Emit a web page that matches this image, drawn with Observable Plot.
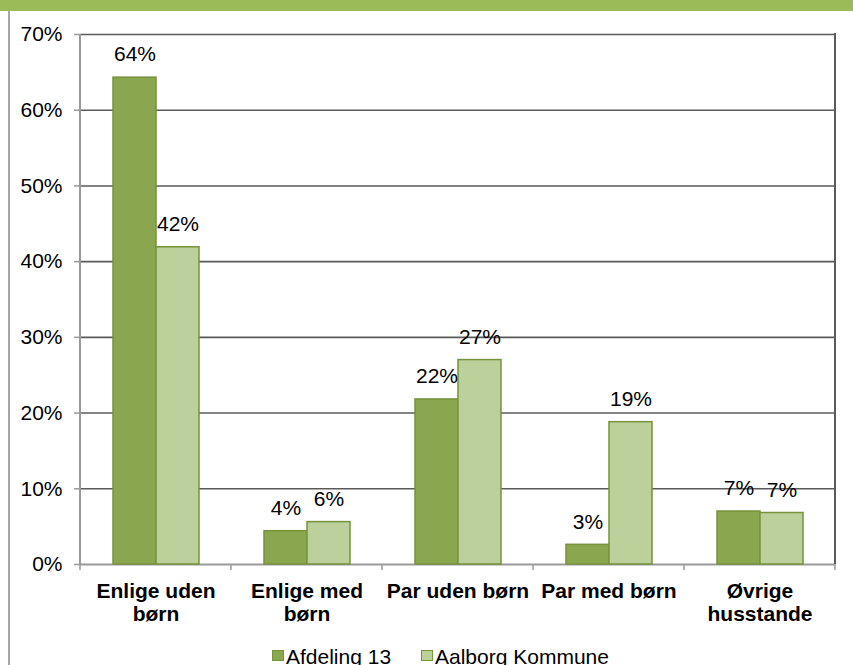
<!DOCTYPE html>
<html><head><meta charset="utf-8">
<script src="https://cdn.jsdelivr.net/npm/d3@7"></script>
<script src="https://cdn.jsdelivr.net/npm/@observablehq/plot@0.6"></script>
<style>
body{margin:0;background:#fff;font-family:"Liberation Sans",Arial,sans-serif;}
#wrap{position:relative;width:853px;height:665px;overflow:hidden;background:#fff;}
#chart{position:absolute;left:0;top:0;}
#band{position:absolute;left:0;top:0;width:853px;height:11px;background:#9bbb59;}
#lborder{position:absolute;left:8px;top:11px;width:2px;height:654px;background:#a6a6a6;}
.litem{position:absolute;top:645px;height:23px;line-height:23px;font-size:21px;color:#000;display:flex;align-items:center;white-space:nowrap;}
.lsw{display:inline-block;width:12px;height:11px;box-sizing:border-box;border:1px solid #77933c;margin-right:2px;margin-top:-2px;}
</style>
</head><body>
<div id="wrap">
  <div id="chart"></div>
  <div id="band"></div>
  <div id="lborder"></div>
  <div id="legend"></div>
</div>
<script>
const categories = ["Enlige uden børn", "Enlige med børn", "Par uden børn", "Par med børn", "Øvrige husstande"];
const categoryLabels = ["Enlige uden\nbørn", "Enlige med\nbørn", "Par uden børn", "Par med børn", "Øvrige\nhusstande"];
const series = ["Afdeling 13", "Aalborg Kommune"];
const afdeling13 = [0.643, 0.044, 0.218, 0.026, 0.070];
const aalborgKommune = [0.419, 0.056, 0.270, 0.188, 0.068];
const yTicks = [0, 0.1, 0.2, 0.3, 0.4, 0.5, 0.6, 0.7];
const seriesColors = ["#8aa64e", "#bbd09a"];

const data = categories.flatMap((c, i) => [
  {cat: c, series: series[0], value: afdeling13[i]},
  {cat: c, series: series[1], value: aalborgKommune[i]}
]);

const W = 853, H = 646, ML = 79, MR = 17, MT = 34, MB = 82;
const pct = d3.format(".0%");
const font = "'Liberation Sans', Arial, sans-serif";

const plot = Plot.plot({
  width: W, height: H,
  marginLeft: ML, marginRight: MR, marginTop: MT, marginBottom: MB,
  style: {fontFamily: font, fontSize: "21px", color: "#000", background: "transparent"},
  fx: {domain: categories, padding: 0, label: null},
  x: {domain: series, paddingInner: 0, paddingOuter: 0.72, axis: null},
  y: {domain: [0, 0.7], label: null},
  color: {domain: series, range: seriesColors},
  marks: [
    Plot.ruleY(yTicks.slice(1), {stroke: "#5a5a5a", strokeWidth: 1.6}),
    Plot.ruleY([0], {stroke: "#9a9a9a", strokeWidth: 2}),
    Plot.barY(data, {fx: "cat", x: "series", y: "value", fill: "series", stroke: "#77933c", strokeWidth: 1.5}),
    Plot.text(data, {fx: "cat", x: "series", y: "value", text: d => pct(d.value), dy: -23, lineAnchor: "middle", fontSize: 21, fill: "#000"}),
    Plot.axisY({ticks: yTicks, tickFormat: pct, tickSize: 6, tickPadding: 12, stroke: "#9a9a9a", strokeWidth: 1.5, fontSize: 21, label: null}),
    Plot.axisFx({anchor: "bottom", tickFormat: c => categoryLabels[categories.indexOf(c)], tickSize: 0, tickPadding: 17, fontSize: 21, fontWeight: "bold", lineHeight: 1.1, label: null})
  ]
});

document.getElementById("chart").appendChild(plot);

// frame lines and category boundary ticks using the plot's own scales
const fx = plot.scale("fx"), y = plot.scale("y");
const y0 = y.apply(0), yTop = y.apply(0.7);
const svg = d3.select(plot);
const g = svg.append("g");
const left = fx.apply(categories[0]);
const right = fx.apply(categories[categories.length - 1]) + fx.bandwidth;
g.append("line").attr("x1", left).attr("x2", left).attr("y1", yTop).attr("y2", y0 + 1)
  .attr("stroke", "#9a9a9a").attr("stroke-width", 2);
g.append("line").attr("x1", right).attr("x2", right).attr("y1", yTop - 1).attr("y2", y0)
  .attr("stroke", "#5a5a5a").attr("stroke-width", 2);
const bounds = categories.map(c => fx.apply(c)).concat([right]);
bounds.forEach(bx => {
  g.append("line").attr("x1", bx).attr("x2", bx).attr("y1", y0).attr("y2", y0 + 6)
    .attr("stroke", "#9a9a9a").attr("stroke-width", 1.5);
});

// legend
const legend = document.getElementById("legend");
const legendLeft = [272, 421];
series.forEach((s, i) => {
  const item = document.createElement("div");
  item.className = "litem";
  item.style.left = legendLeft[i] + "px";
  const sw = document.createElement("span");
  sw.className = "lsw";
  sw.style.background = seriesColors[i];
  item.appendChild(sw);
  item.appendChild(document.createTextNode(s));
  legend.appendChild(item);
});
</script>
</body></html>
